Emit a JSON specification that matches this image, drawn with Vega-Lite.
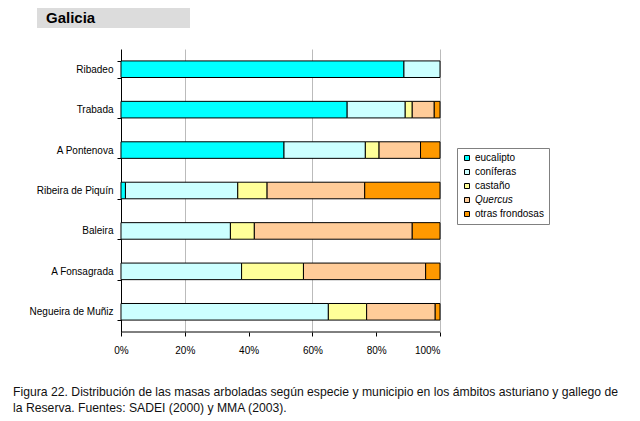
{
  "$schema": "https://vega.github.io/schema/vega-lite/v6.json",
  "background": "white",
  "padding": {"left": 13, "top": 8, "right": 0, "bottom": 0},
  "autosize": {"type": "pad"},
  "title": {
    "text": ["Figura 22. Distribución de las masas arboladas según especie y municipio en los ámbitos asturiano y gallego de", "la Reserva. Fuentes: SADEI (2000) y MMA (2003)."],
    "orient": "bottom",
    "anchor": "start",
    "font": "Liberation Sans",
    "fontSize": 12.2,
    "fontWeight": "normal",
    "color": "#111111",
    "lineHeight": 16,
    "offset": 31,
    "dx": -16
  },
  "spacing": 16,
  "vconcat": [
    {
      "width": 153,
      "height": 20,
      "view": {"fill": "#dcdcdc", "stroke": null},
      "data": {"values": [{"region": "Galicia"}]},
      "mark": {"type": "text", "align": "left", "baseline": "middle", "fontWeight": "bold", "fontSize": 15, "font": "Liberation Sans", "dx": 9, "color": "#000000"},
      "encoding": {
        "text": {"field": "region"},
        "x": {"datum": 0, "type": "quantitative", "scale": {"domain": [0, 1]}, "axis": null},
        "y": {"datum": 0.5, "type": "quantitative", "scale": {"domain": [0, 1]}, "axis": null}
      }
    },
    {
      "width": 403,
      "height": 283,
      "layer": [
        {
          "data": {"values": [
            {"municipio": "Ribadeo", "especie": "eucalipto", "valor": 0.887},
            {"municipio": "Ribadeo", "especie": "coníferas", "valor": 0.113},
            {"municipio": "Trabada", "especie": "eucalipto", "valor": 0.709},
            {"municipio": "Trabada", "especie": "coníferas", "valor": 0.182},
            {"municipio": "Trabada", "especie": "castaño", "valor": 0.022},
            {"municipio": "Trabada", "especie": "Quercus", "valor": 0.069},
            {"municipio": "Trabada", "especie": "otras frondosas", "valor": 0.018},
            {"municipio": "A Pontenova", "especie": "eucalipto", "valor": 0.511},
            {"municipio": "A Pontenova", "especie": "coníferas", "valor": 0.255},
            {"municipio": "A Pontenova", "especie": "castaño", "valor": 0.043},
            {"municipio": "A Pontenova", "especie": "Quercus", "valor": 0.130},
            {"municipio": "A Pontenova", "especie": "otras frondosas", "valor": 0.061},
            {"municipio": "Ribeira de Piquín", "especie": "eucalipto", "valor": 0.014},
            {"municipio": "Ribeira de Piquín", "especie": "coníferas", "valor": 0.352},
            {"municipio": "Ribeira de Piquín", "especie": "castaño", "valor": 0.092},
            {"municipio": "Ribeira de Piquín", "especie": "Quercus", "valor": 0.306},
            {"municipio": "Ribeira de Piquín", "especie": "otras frondosas", "valor": 0.236},
            {"municipio": "Baleira", "especie": "coníferas", "valor": 0.343},
            {"municipio": "Baleira", "especie": "castaño", "valor": 0.075},
            {"municipio": "Baleira", "especie": "Quercus", "valor": 0.495},
            {"municipio": "Baleira", "especie": "otras frondosas", "valor": 0.087},
            {"municipio": "A Fonsagrada", "especie": "coníferas", "valor": 0.378},
            {"municipio": "A Fonsagrada", "especie": "castaño", "valor": 0.194},
            {"municipio": "A Fonsagrada", "especie": "Quercus", "valor": 0.383},
            {"municipio": "A Fonsagrada", "especie": "otras frondosas", "valor": 0.045},
            {"municipio": "Negueira de Muñiz", "especie": "coníferas", "valor": 0.650},
            {"municipio": "Negueira de Muñiz", "especie": "castaño", "valor": 0.120},
            {"municipio": "Negueira de Muñiz", "especie": "Quercus", "valor": 0.215},
            {"municipio": "Negueira de Muñiz", "especie": "otras frondosas", "valor": 0.015}
          ]},
          "transform": [
            {"calculate": "indexof(['eucalipto', 'coníferas', 'castaño', 'Quercus', 'otras frondosas'], datum.especie)", "as": "orden"}
          ],
          "mark": {"type": "bar", "stroke": "#000000", "strokeWidth": 1},
          "encoding": {
            "y": {
              "field": "municipio", "type": "nominal",
              "sort": ["Ribadeo", "Trabada", "A Pontenova", "Ribeira de Piquín", "Baleira", "A Fonsagrada", "Negueira de Muñiz"],
              "scale": {"paddingInner": 0.59, "paddingOuter": 0.295},
              "axis": {
                "title": null, "orient": "left", "offset": -84, "tickBand": "extent",
                "tickSize": 4, "tickColor": "#000000", "domainColor": "#000000",
                "labelPadding": 4, "labelFontSize": 10, "labelColor": "#000000", "labelFont": "Liberation Sans", "grid": false
              }
            },
            "x": {
              "field": "valor", "type": "quantitative", "stack": "zero",
              "scale": {"domain": [-0.2633, 1], "nice": false, "zero": false},
              "axis": {
                "title": null, "values": [0, 0.2, 0.4, 0.6, 0.8, 1], "format": ".0%",
                "domain": false, "tickSize": 4, "tickColor": "#000000",
                "labelPadding": 9, "labelFontSize": 10, "labelColor": "#000000", "labelFont": "Liberation Sans",
                "grid": true,
                "gridColor": {"condition": {"test": "datum.value == 0.2 || datum.value == 0.6 || datum.value == 1", "value": "#bbbbbb"}, "value": "transparent"}
              }
            },
            "order": {"field": "orden", "type": "quantitative", "sort": "ascending"},
            "color": {
              "field": "especie", "type": "nominal",
              "sort": ["eucalipto", "coníferas", "castaño", "Quercus", "otras frondosas"],
              "scale": {
                "domain": ["eucalipto", "coníferas", "castaño", "Quercus", "otras frondosas"],
                "range": ["#00ffff", "#ccffff", "#ffff99", "#ffcc99", "#ff9900"]
              },
              "legend": {
                "title": null, "orient": "none", "legendX": 420, "legendY": 140,
                "symbolType": "square", "symbolSize": 25, "symbolStrokeColor": "#000000", "symbolStrokeWidth": 1,
                "labelFontSize": 10, "labelFont": "Liberation Sans", "labelColor": "#000000",
                "labelFontStyle": {"expr": "datum.label == 'Quercus' ? 'italic' : 'normal'"},
                "rowPadding": 4, "padding": 5, "strokeColor": "#808080", "fillColor": "#ffffff", "labelOffset": 3
              }
            }
          }
        },
        {
          "data": {"values": [{"inicio": 0, "fin": 1}]},
          "mark": {"type": "rule", "color": "#000000", "strokeWidth": 1},
          "encoding": {
            "x": {"field": "inicio", "type": "quantitative"},
            "x2": {"field": "fin"},
            "y": {"value": "height"}
          }
        }
      ]
    }
  ],
  "config": {
    "view": {"stroke": null},
    "font": "Liberation Sans"
  }
}
